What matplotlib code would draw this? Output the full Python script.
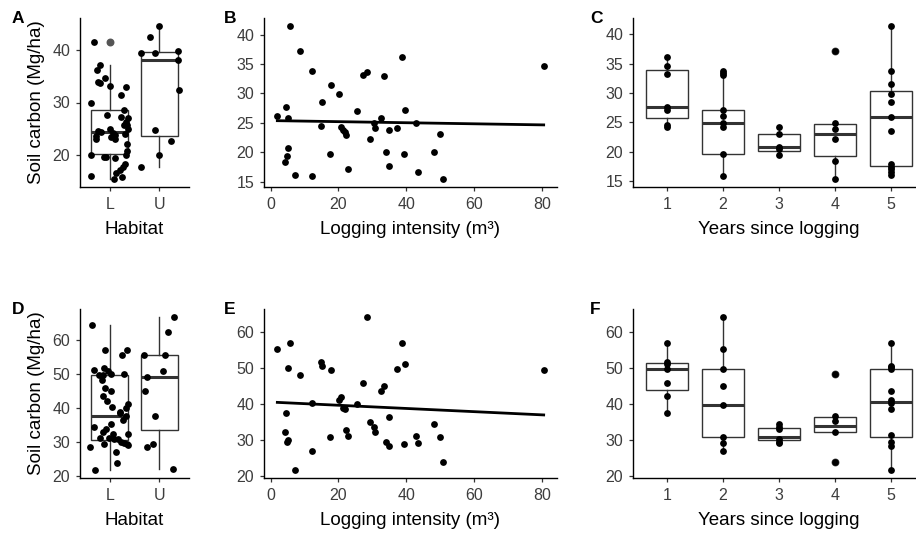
import matplotlib
matplotlib.use("Agg")
import matplotlib.pyplot as plt
import numpy as np

plt.rcParams["font.family"] = ["Liberation Sans", "DejaVu Sans"]

# logged plots (L): logging intensity and soil carbon in the two layers
intensity = [2.0, 4.3, 4.6, 4.8, 5.0, 5.0, 5.8, 7.2, 8.7, 12.2, 12.2, 14.9, 15.2, 17.6,
             17.8, 20.1, 20.8, 21.4, 21.8, 22.2, 22.8, 25.4, 27.1, 28.5, 29.2, 30.6, 30.7,
             32.5, 33.5, 33.9, 34.9, 34.9, 37.3, 38.6, 39.4, 39.5, 42.9, 43.4, 48.1, 50.0,
             50.8, 80.4]
carbon_top = [26.2, 18.4, 27.7, 19.4, 20.7, 25.8, 41.5, 16.1, 37.2, 33.85, 15.9, 24.5, 28.5,
              19.7, 31.5, 29.9, 24.3, 23.7, 23.5, 23.0, 17.1, 27.0, 33.2, 33.7, 22.2, 25.0,
              24.1, 25.8, 32.9, 20.1, 23.8, 17.7, 24.2, 36.2, 19.7, 27.2, 24.9, 16.65, 20.1,
              23.1, 15.4, 34.65]
carbon_sub = [55.4, 32.3, 37.5, 29.4, 30.0, 49.9, 56.9, 21.6, 48.2, 40.2, 27.1, 51.7, 50.7,
              30.75, 49.6, 41.2, 42.1, 38.8, 38.6, 32.8, 31.2, 39.9, 45.9, 64.3, 35.1, 33.7,
              32.2, 43.6, 44.9, 29.6, 36.5, 28.4, 49.8, 57.0, 29.0, 51.2, 31.0, 29.3, 34.4,
              30.8, 23.9, 49.6]
# horizontal jitter of the logged points in the habitat panels
jitter_top = [0.32, 0.30, -0.06, 0.10, 0.34, 0.34, -0.32, -0.37, -0.20, -0.23, 0.25, -0.23,
              0.28, -0.08, 0.23, -0.38, -0.18, -0.28, 0.02, 0.10, 0.20, 0.37, 0.00, -0.20,
              0.34, 0.37, 0.30, 0.28, 0.32, -0.38, 0.10, 0.27, 0.07, -0.25, -0.12, 0.22,
              0.00, 0.12, 0.32, -0.28, 0.09, -0.10]
jitter_sub = [0.24, 0.07, 0.32, 0.35, 0.22, 0.03, -0.09, -0.30, -0.15, 0.05, 0.13, -0.11,
              -0.03, 0.17, -0.22, 0.36, -0.05, 0.20, 0.20, -0.13, -0.20, 0.32, -0.10, -0.36,
              0.03, -0.08, 0.37, -0.13, 0.02, 0.28, 0.27, -0.39, 0.28, 0.34, 0.37, -0.32,
              -0.01, -0.11, -0.32, 0.08, 0.15, -0.13]

# unlogged plots (U)
unlogged_top = [44.6, 42.4, 39.5, 39.5, 39.7, 38.1, 32.3, 24.7, 22.7, 20.0, 17.8]
unlogged_sub = [66.8, 62.4, 55.4, 55.5, 49.0, 50.8, 45.0, 37.6, 28.6, 29.4, 22.0]
jitter_u_top = [0.00, -0.19, -0.37, -0.09, 0.37, 0.37, 0.40, -0.09, 0.24, -0.01, -0.37]
jitter_u_sub = [0.29, 0.18, -0.30, 0.11, -0.25, 0.08, -0.29, -0.08, -0.24, -0.13, 0.27]

habitats = ["L", "U"]
years = [1, 2, 3, 4, 5]

# soil carbon by years since logging
years_top = [
    [36.2, 34.65, 33.2, 27.7, 27.1, 24.5, 24.2],
    [33.85, 33.5, 33.1, 27.1, 26.1, 24.9, 24.2, 19.7, 15.9],
    [24.2, 23.1, 20.85, 20.4, 19.4],
    [37.2, 24.96, 23.8, 22.2, 18.4, 15.3],
    [41.5, 33.85, 31.5, 29.9, 28.5, 25.9, 23.6, 17.9, 17.4, 17.0, 16.5, 16.1],
]
years_sub = [
    [57.0, 51.8, 51.0, 49.6, 45.8, 42.1, 37.4],
    [64.3, 55.3, 49.8, 44.9, 39.8, 30.9, 29.1, 27.0],
    [34.5, 33.7, 33.0, 30.2, 29.4, 29.1],
    [48.2, 36.7, 35.1, 32.2, 23.9],
    [56.9, 50.7, 50.2, 49.6, 43.6, 41.2, 40.3, 38.6, 31.2, 29.4, 28.4, 21.5],
]

# box summaries: lower whisker, Q1, median, Q3, upper whisker
hab_box_top = [[15.4, 20.2, 24.3, 28.5, 37.2], [17.8, 23.7, 38.1, 39.6, 44.6]]
hab_out_top = [[41.5], []]
hab_box_sub = [[21.6, 30.6, 37.6, 49.5, 64.3], [22.0, 33.4, 49.1, 55.4, 66.8]]
hab_out_sub = [[], []]
yr_box_top = [[24.2, 25.8, 27.7, 33.9, 36.2], [15.9, 19.66, 24.96, 27.1, 33.85],
              [19.4, 20.2, 20.75, 23.1, 24.2], [15.3, 19.3, 22.97, 24.74, 24.96],
              [16.1, 17.6, 25.9, 30.38, 41.5]]
yr_out_top = [[], [], [], [37.2], []]
yr_box_sub = [[37.4, 44.0, 49.8, 51.4, 57.0], [27.0, 30.75, 39.8, 49.8, 64.3],
              [29.1, 29.9, 30.8, 33.2, 34.5], [32.2, 32.2, 33.9, 36.3, 36.7],
              [21.5, 30.75, 40.65, 49.8, 56.9]]
yr_out_sub = [[], [], [], [48.2, 23.9], []]

BOX = "#333333"
TICK = "#3d3d3d"
W, H = 916, 533


def style(ax):
    for side in ("top", "right"):
        ax.spines[side].set_visible(False)
    for side in ("left", "bottom"):
        ax.spines[side].set_linewidth(1.0)
        ax.spines[side].set_color("black")
    ax.tick_params(length=3, width=0.9, color=BOX, labelsize=11.5, labelcolor=TICK, pad=4)


def draw_boxes(ax, summary, outliers, positions):
    stats = []
    for (lo, q1, med, q3, hi), out in zip(summary, outliers):
        stats.append(dict(whislo=lo, q1=q1, med=med, q3=q3, whishi=hi, fliers=out))
    ax.bxp(stats, positions=positions, widths=0.75, showcaps=False, patch_artist=True,
           manage_ticks=False,
           boxprops=dict(facecolor="white", edgecolor=BOX, linewidth=1.0),
           medianprops=dict(color=BOX, linewidth=2.2, solid_capstyle="butt"),
           whiskerprops=dict(color=BOX, linewidth=1.0),
           flierprops=dict(marker="o", markerfacecolor="#555555", markeredgecolor="#555555",
                           markersize=4.7))


def dots(ax, x, y):
    ax.scatter(x, y, s=24, color="black", linewidths=0, zorder=3)


def px_axes(fig, left, top, right, bottom):
    return fig.add_axes([left / W, 1 - bottom / H, (right - left) / W, (bottom - top) / H])


fig = plt.figure(figsize=(W / 100, H / 100), dpi=100)
fig.patch.set_facecolor("white")

rows = [
    (18, 187, carbon_top, jitter_top, unlogged_top, jitter_u_top, years_top,
     hab_box_top, hab_out_top, yr_box_top, yr_out_top, [20, 30, 40], [15, 20, 25, 30, 35, 40],
     "ABC"),
    (309, 478, carbon_sub, jitter_sub, unlogged_sub, jitter_u_sub, years_sub,
     hab_box_sub, hab_out_sub, yr_box_sub, yr_out_sub, [20, 30, 40, 50, 60],
     [20, 30, 40, 50, 60], "DEF"),
]

for (top, bottom, carbon, jit, unl, jit_u, by_year, hbox, hout, ybox, yout,
     hticks, ticks, tags) in rows:
    # habitat
    ax = px_axes(fig, 80, top, 189, bottom)
    draw_boxes(ax, hbox, hout, [1, 2])
    dots(ax, [1 + j for j in jit], carbon)
    dots(ax, [2 + j for j in jit_u], unl)
    ax.set_xlim(0.4, 2.6)
    ax.set_xticks([1, 2])
    ax.set_xticklabels(habitats)
    ax.set_yticks(hticks)
    ax.set_xlabel("Habitat", fontsize=13.5, labelpad=7)
    ax.set_ylabel("Soil carbon (Mg/ha)", fontsize=13.5, labelpad=5)
    style(ax)

    # logging intensity
    ax = px_axes(fig, 264, top, 557, bottom)
    dots(ax, intensity, carbon)
    slope, intercept = np.polyfit(intensity, carbon, 1)
    xs = np.array([min(intensity), max(intensity)])
    ax.plot(xs, slope * xs + intercept, color="black", linewidth=2.0, zorder=2)
    ax.set_xticks([0, 20, 40, 60, 80])
    ax.set_yticks(ticks)
    ax.set_xlabel("Logging intensity (m³)", fontsize=13.5, labelpad=7)
    style(ax)

    # years since logging
    ax = px_axes(fig, 633, top, 925, bottom)
    draw_boxes(ax, ybox, yout, years)
    for yr, vals in zip(years, by_year):
        dots(ax, [yr] * len(vals), vals)
    ax.set_xlim(0.4, 5.6)
    ax.set_xticks(years)
    ax.set_yticks(ticks)
    ax.set_xlabel("Years since logging", fontsize=13.5, labelpad=7)
    style(ax)

    for x, tag in zip([12, 224, 590], tags):
        fig.text(x / W, 1 - (top - 7) / H, tag, fontsize=12.5, fontweight="bold",
                 va="top", ha="left")

fig.savefig("out.png", dpi=100, facecolor="white")
